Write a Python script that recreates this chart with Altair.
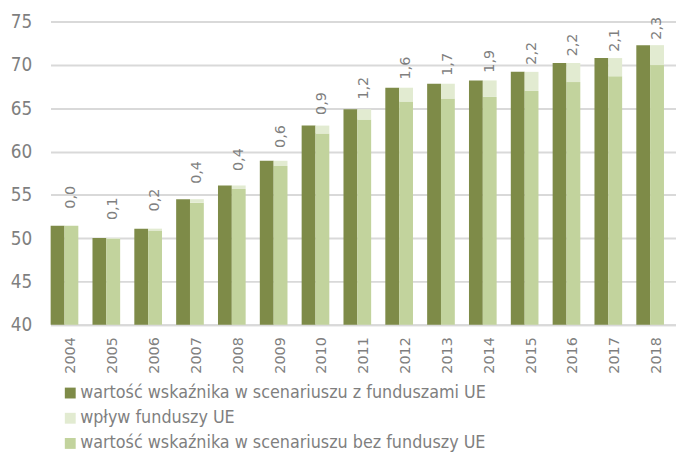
import altair as alt
import pandas as pd

years = ["2004", "2005", "2006", "2007", "2008", "2009", "2010", "2011",
         "2012", "2013", "2014", "2015", "2016", "2017", "2018"]
with_eu = [51.43, 50.03, 51.10, 54.50, 56.08, 58.93, 62.99, 64.88,
           67.36, 67.82, 68.20, 69.19, 70.21, 70.78, 72.27]
without_eu = [51.43, 49.93, 50.90, 54.10, 55.68, 58.33, 62.09, 63.68,
              65.76, 66.12, 66.30, 66.99, 68.01, 68.68, 69.97]
impact_labels = ["0,0", "0,1", "0,2", "0,4", "0,4", "0,6", "0,9", "1,2",
                 "1,6", "1,7", "1,9", "2,2", "2,2", "2,1", "2,3"]

series = ["wartość wskaźnika w scenariuszu z funduszami UE",
          "wpływ funduszy UE",
          "wartość wskaźnika w scenariuszu bez funduszy UE"]
colors = ["#7E8B48", "#E2EBD1", "#C2D39D"]

df = pd.DataFrame({"year": years, "with_eu": with_eu,
                   "without_eu": without_eu, "label": impact_labels})

NARROW = "DejaVu Sans Condensed"
WIDE = "DejaVu Sans"
GREY = "#7F7F7F"

color_scale = alt.Scale(domain=series, range=colors)
legend = alt.Legend(orient="none", legendX=11, legendY=367, title=None,
                    symbolType="square", symbolSize=121, symbolStrokeWidth=0,
                    labelFont=NARROW, labelFontSize=18, labelColor=GREY,
                    labelLimit=800, rowPadding=7.5, labelOffset=1, padding=0)

x = alt.X("year:N", sort=years, title=None,
          scale=alt.Scale(paddingInner=0, paddingOuter=0),
          axis=alt.Axis(labelAngle=270, labelFont=WIDE, labelFontSize=14.5,
                        labelColor=GREY, ticks=False, labelPadding=12,
                        domainColor="#D9D9D9", domainWidth=2, grid=False))
yscale = alt.Scale(domain=[40, 75], nice=False, zero=False)
y_axis = alt.Axis(values=[40, 45, 50, 55, 60, 65, 70, 75], title=None,
                  labelFont=NARROW, labelFontSize=19, labelColor=GREY,
                  ticks=False, domain=False, labelPadding=19,
                  gridColor="#D9D9D9", gridWidth=2)

base = alt.Chart(df)

dark = base.mark_bar(width=14, xOffset=-14).transform_calculate(
    series="'" + series[0] + "'"
).encode(
    x=x,
    y=alt.Y("with_eu:Q", scale=yscale, axis=y_axis),
    y2=alt.datum(40),
    color=alt.Color("series:N", scale=color_scale, legend=legend),
)

light = base.mark_bar(width=14).transform_calculate(
    series="'" + series[2] + "'"
).encode(
    x=x,
    y=alt.Y("without_eu:Q", scale=yscale),
    y2=alt.datum(40),
    color=alt.Color("series:N", scale=color_scale, legend=legend),
)

pale = base.mark_bar(width=14).transform_calculate(
    series="'" + series[1] + "'"
).encode(
    x=x,
    y=alt.Y("with_eu:Q", scale=yscale),
    y2=alt.Y2("without_eu:Q"),
    color=alt.Color("series:N", scale=color_scale, legend=legend),
)

labels = base.mark_text(angle=270, align="left", baseline="middle",
                        font=WIDE, fontSize=14.5, color=GREY).transform_calculate(
    label_pos="42.7 + 0.936 * (datum.with_eu - 40)"
).encode(
    x=x,
    y=alt.Y("label_pos:Q", scale=yscale),
    text="label:N",
)

chart = alt.layer(dark, light, pale, labels).properties(
    width=635, height=307,
    autosize=alt.AutoSizeParams(type="none"),
    padding={"left": 43, "top": 11, "right": -2, "bottom": 126},
).configure_view(stroke=None)

chart.save("out.html", embed_options={"renderer": "svg", "actions": False})
